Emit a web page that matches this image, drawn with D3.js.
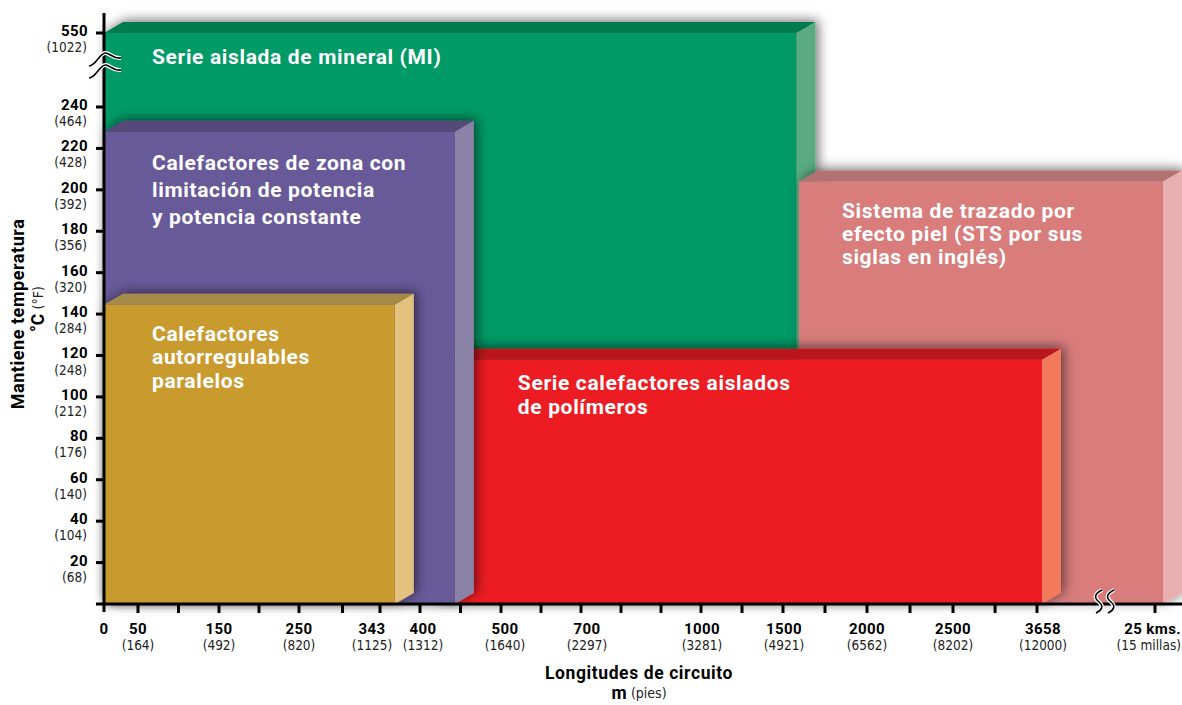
<!DOCTYPE html>
<html>
<head>
<meta charset="utf-8">
<script src="https://cdn.jsdelivr.net/npm/d3@7"></script>
<style>
  body { margin: 0; background: #fff; }
  svg { display: block; }
  .lbl { font-family: "Roboto", "DejaVu Sans", sans-serif; font-weight: 700; }
  .sub { font-family: "Liberation Sans Narrow", "DejaVu Sans Condensed", sans-serif; font-weight: 400; fill: #222; }
</style>
</head>
<body>
<svg id="chart" width="1182" height="705"></svg>
<script>
// y axis: °C ticks and their °F equivalents (550 sits above an axis break)
const yTicks   = [20, 40, 60, 80, 100, 120, 140, 160, 180, 200, 220, 240, 550];
const yTicksF  = ["(68)", "(104)", "(140)", "(176)", "(212)", "(248)", "(284)", "(320)", "(356)", "(392)", "(428)", "(464)", "(1022)"];

// x axis: labelled circuit lengths in m, feet below, plus unlabelled minor ticks
const xTicks   = [0, 50, 150, 250, 343, 400, 500, 700, 1000, 1500, 2000, 2500, 3658, 25000];
const xNames   = ["0", "50", "150", "250", "343", "400", "500", "700", "1000", "1500", "2000", "2500", "3658", "25 kms."];
const xTicksF  = ["", "(164)", "(492)", "(820)", "(1125)", "(1312)", "(1640)", "(2297)", "(3281)", "(4921)", "(6562)", "(8202)", "(12000)", "(15 millas)"];
const xMinor   = [100, 200, 300, 450, 600, 800, 900, 1250, 1750, 2250, 3080];

// the heater families: length range (m) and max maintain temperature (°C)
const families = ["Serie aislada de mineral (MI)", "Sistema de trazado por efecto piel", "Serie calefactores aislados de polímeros", "Calefactores de zona", "Calefactores autorregulables"];
const lenFrom  = [0, 1595, 420, 0, 0];
const lenTo    = [1580, 26450, 4560, 443, 364];
const maxTemp  = [550, 204, 118, 228, 144.5];
const labels = [
  ["Serie aislada de mineral (MI)"],
  ["Sistema de trazado por", "efecto piel (STS por sus", "siglas en inglés)"],
  ["Serie calefactores aislados", "de polímeros"],
  ["Calefactores de zona con", "limitación de potencia", "y potencia constante"],
  ["Calefactores", "autorregulables", "paralelos"]
];
// front / top / side colours
const colors = [
  ["#019a66", "#017a50", "#5aab82"],
  ["#d87c7c", "#b27272", "#e8b0ae"],
  ["#ec1c24", "#bb181e", "#f27a5c"],
  ["#675a99", "#564a7a", "#8b82a8"],
  ["#c99a2f", "#a68a4a", "#e2c27e"]
];
// label placement (px from visible left edge / box top, line step)
const labelPos = [[48, 25, 23], [43, 30, 23], [44, 24, 24], [48, 32, 27], [48, 30, 23.5]];
// small horizontal nudges of the x tick labels
const xNudge = [0, 0, 0, 0, -8, 3, 4, 6, 1, 1, 0, 0, 6, 0];

const svg = d3.select("#chart");
const depthX = 19, depthY = 11;

// piecewise scales reproduce the broken / uneven axes
let x = d3.scaleLinear().domain(xTicks)
    .range([104, 138, 219, 299, 380, 420, 501, 581, 701, 783, 867, 953, 1037, 1155]);
let y = d3.scaleLinear().domain([0, 240, 550]).range([604, 107, 33]);

let defs = svg.append("defs");
let f = defs.append("filter").attr("id", "shadow")
    .attr("x", "-10%").attr("y", "-20%").attr("width", "130%").attr("height", "140%");
f.append("feDropShadow").attr("dx", 3).attr("dy", -2)
    .attr("stdDeviation", 6).attr("flood-color", "#000").attr("flood-opacity", 0.55);

let boxes = svg.append("g");
let data = families.map((n, i) => ({
  name: n, x0: lenFrom[i], x1: lenTo[i], t: maxTemp[i], c: colors[i], lines: labels[i], lp: labelPos[i]
}));

data.forEach(function (d) {
  let g = boxes.append("g").attr("filter", "url(#shadow)");
  let l = x(d.x0), r = x(d.x1), top = y(d.t), bot = y(0);
  // top face
  g.append("path")
    .attr("d", `M${l},${top}L${l + depthX},${top - depthY}L${r + depthX},${top - depthY}L${r},${top}Z`)
    .attr("fill", d.c[1]);
  // side face
  g.append("path")
    .attr("d", `M${r},${top}L${r + depthX},${top - depthY}L${r + depthX},${bot - depthY}L${r},${bot}Z`)
    .attr("fill", d.c[2]);
  // front
  g.append("rect")
    .attr("x", l).attr("y", top)
    .attr("width", r - l).attr("height", bot - top)
    .attr("fill", d.c[0]);
});

// labels drawn afterwards so no later box shadow covers them
data.forEach(function (d, i) {
  // visible left edge: the red box hides behind the purple one
  let visLeft = i === 2 ? x(lenTo[3]) + depthX : x(d.x0);
  let t = svg.append("text").attr("class", "lbl")
    .attr("x", visLeft + d.lp[0]).attr("y", y(d.t) + d.lp[1])
    .attr("fill", "#fff").attr("font-size", 21).attr("letter-spacing", 0.65)
    .attr("dominant-baseline", "middle");
  d.lines.forEach((s, k) => t.append("tspan").attr("x", visLeft + d.lp[0]).attr("dy", k ? d.lp[2] : 0).text(s));
});

// axes
let axes = svg.append("g").attr("stroke", "#000").attr("stroke-width", 3);
axes.append("line").attr("x1", 104).attr("x2", 104).attr("y1", 13).attr("y2", 612);
axes.append("line").attr("x1", 96).attr("x2", 1182).attr("y1", y(0)).attr("y2", y(0));

axes.selectAll(".yt").data(yTicks).join("line")
  .attr("x1", 96).attr("x2", 104).attr("y1", d => y(d)).attr("y2", d => y(d));
axes.selectAll(".xt").data(xTicks.slice(1).concat(xMinor)).join("line")
  .attr("x1", d => x(d)).attr("x2", d => x(d)).attr("y1", y(0)).attr("y2", y(0) + 9);

svg.selectAll(".ylab").data(yTicks).join("text").attr("class", "lbl")
  .attr("x", 88).attr("y", d => y(d) - 1).attr("text-anchor", "end")
  .attr("dominant-baseline", "middle").attr("font-size", 15).attr("letter-spacing", 0.4).text(d => d);
svg.selectAll(".ylabf").data(yTicks).join("text").attr("class", "sub")
  .attr("x", 87).attr("y", d => y(d) + 15).attr("text-anchor", "end")
  .attr("dominant-baseline", "middle").attr("font-size", 13.5).text((d, i) => yTicksF[i]);

let lastX = xTicks.length - 1;
let xlx = (d, i) => i === lastX ? 1181 : x(d) + xNudge[i];
let xanchor = (d, i) => i === lastX ? "end" : "middle";
svg.selectAll(".xlab").data(xTicks).join("text").attr("class", "lbl")
  .attr("x", xlx).attr("y", 630).attr("text-anchor", xanchor)
  .attr("dominant-baseline", "middle").attr("font-size", 15).attr("letter-spacing", 0.4).text((d, i) => xNames[i]);
svg.selectAll(".xlabf").data(xTicks).join("text").attr("class", "sub")
  .attr("x", xlx).attr("y", 646).attr("text-anchor", xanchor)
  .attr("dominant-baseline", "middle").attr("font-size", 13.5).text((d, i) => xTicksF[i]);

// axis breaks
let brk = svg.append("g").attr("fill", "none").attr("stroke", "#000").attr("stroke-width", 1.6);
[0, 12].forEach(function (o) {
  let p = `M89,${78 - o}C96,${78 - o} 100,${64 - o} 106,${65 - o}C111,${66 - o} 113,${71 - o} 121,${70 - o}`;
  brk.append("path").attr("d", p).attr("stroke", "#fff").attr("stroke-width", 4);
  brk.append("path").attr("d", p);
});
[0, 12].forEach(function (o) {
  let bx = 1096 + o;
  let p = `M${bx + 6},590C${bx - 2},594 ${bx - 2},598 ${bx + 3},602C${bx + 8},606 ${bx + 6},610 ${bx},613`;
  brk.append("path").attr("d", p).attr("stroke", "#fff").attr("stroke-width", 4);
  brk.append("path").attr("d", p);
});

// axis titles
svg.append("text").attr("class", "lbl").attr("font-size", 18).attr("letter-spacing", 0.55)
  .attr("transform", "translate(19,314) rotate(-90)").attr("text-anchor", "middle")
  .attr("dominant-baseline", "middle").text("Mantiene temperatura");
let yt2 = svg.append("text").attr("transform", "translate(39,309) rotate(-90)")
  .attr("text-anchor", "middle").attr("dominant-baseline", "middle");
yt2.append("tspan").attr("class", "lbl").attr("font-size", 17.5).text("°C ");
yt2.append("tspan").attr("class", "sub").attr("font-size", 14).text("(°F)");

svg.append("text").attr("class", "lbl").attr("font-size", 17.5).attr("letter-spacing", 0.6)
  .attr("x", 639).attr("y", 674).attr("text-anchor", "middle")
  .attr("dominant-baseline", "middle").text("Longitudes de circuito");
let xt2 = svg.append("text").attr("x", 639).attr("y", 694)
  .attr("text-anchor", "middle").attr("dominant-baseline", "middle");
xt2.append("tspan").attr("class", "lbl").attr("font-size", 17.5).text("m ");
xt2.append("tspan").attr("class", "sub").attr("font-size", 14).text("(pies)");
</script>
</body>
</html>
